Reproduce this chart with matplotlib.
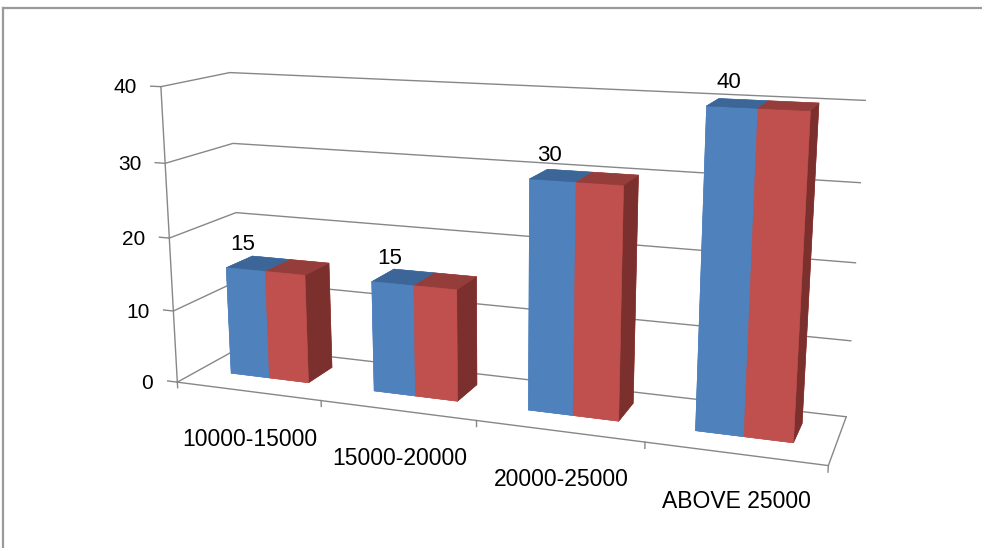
import matplotlib
matplotlib.use("Agg")
import matplotlib.pyplot as plt
from matplotlib.transforms import offset_copy
from matplotlib.lines import Line2D

plt.rcParams['font.family'] = ['Liberation Sans', 'DejaVu Sans']

# ---- data -------------------------------------------------------------
categories = ["10000-15000", "15000-20000", "20000-25000", "ABOVE 25000"]
series_blue = [15, 15, 30, 40]
series_red = [15, 15, 30, 40]
z_ticks = [0, 10, 20, 30, 40]

# ---- figure / 3D axes -------------------------------------------------
W_PX, H_PX = 982, 548
fig = plt.figure(figsize=(W_PX / 100, H_PX / 100), dpi=100)

side = 982                      # square 3D axes side in pixels
cx, cy = 500, 250               # where the box centre lands (px from top-left)
frac = 0.095 / 0.185
ax = fig.add_axes([(cx - frac * side) / W_PX,
                   (H_PX - cy - frac * side) / H_PX,
                   side / W_PX, side / H_PX],
                  projection='3d', computed_zorder=False)
ax.set_proj_type('persp', focal_length=0.268)
ax.view_init(elev=13.5, azim=-70)
ax.set_box_aspect((680, 135, 314), zoom=0.7525)

n = len(categories)
zmax = z_ticks[-1]
ax.set_xlim(0, n)
ax.set_ylim(0, 1)
ax.set_zlim(0, zmax)
# the built-in 3D axis furniture is replaced by the lines drawn below
ax.set_xticks([])
ax.set_yticks([])
ax.set_zticks([])
ax.set_axis_off()
for axis in (ax.xaxis, ax.yaxis, ax.zaxis):
    axis.label.set_visible(False)
    axis.offsetText.set_visible(False)

# ---- walls, floor and axis lines --------------------------------------
line_kw = dict(color='#878787', lw=1.0, zorder=1, clip_on=False)
for z in z_ticks:
    ax.plot([0, 0, n], [0, 1, 1], [z, z, z], **line_kw)          # side + back wall
    ax.plot([-0.07, 0], [0, 0], [z, z], **line_kw)               # value-axis tick
ax.plot([0, 0], [0, 0], [0, zmax], **line_kw)                    # value axis
ax.plot([0, n, n], [0, 0, 1], [0, 0, 0], **line_kw)              # floor edges
for i in range(n + 1):
    ax.plot([i, i], [0, 0], [0, -0.8], **line_kw)                # category ticks

# ---- bars -------------------------------------------------------------
gap = 0.225
bw = (1 - 2 * gap) / 2
y0, depth = 0.34, 0.41

# face order used by bar3d: bottom, top, front, back, left, right
blue_faces = ['#4F81BD', '#3D6698', '#4F81BD', '#4F81BD', '#4F81BD', 'none']
red_faces = ['#C0504D', '#943D3A', '#C0504D', '#C0504D', 'none', '#7B302E']

xs, heights, face_cols = [], [], []
for i, v in enumerate(series_blue):
    xs.append(i + gap)
    heights.append(v)
    face_cols += blue_faces
for i, v in enumerate(series_red):
    xs.append(i + gap + bw)
    heights.append(v)
    face_cols += red_faces

m = len(xs)
ax.bar3d(xs, [y0] * m, [0] * m, [bw] * m, [depth] * m, heights,
         color=face_cols, edgecolor=face_cols, linewidth=0.4,
         shade=False, zorder=2, clip_on=False)

# ---- text -------------------------------------------------------------
def shifted(dx, dy):
    return offset_copy(ax.transData, fig=fig, x=dx, y=dy, units='dots')

for z in z_ticks:
    ax.text(0, 0, z, str(z), transform=shifted(-24, -1), ha='right',
            va='center', fontsize=15, color='black', zorder=3, clip_on=False)

for i, cat in enumerate(categories):
    ax.text(i + 0.5, 0, 0, cat, transform=shifted(2, -48), ha='center',
            va='center', fontsize=16.5, color='black', zorder=3, clip_on=False)

for i, v in enumerate(series_blue):
    ax.text(i + gap + bw / 2, y0, v, str(v), transform=shifted(-3, 25),
            ha='center', va='center', fontsize=16, color='black', zorder=3,
            clip_on=False)

# chart-area border (top and left edges)
bx, by = 3 / W_PX, (H_PX - 8) / H_PX
fig.add_artist(Line2D([bx, bx], [0, by], color='#9a9a9a', lw=1.6))
fig.add_artist(Line2D([bx, 1], [by, by], color='#9a9a9a', lw=1.6))

fig.savefig('out.png', dpi=100, facecolor='white')
